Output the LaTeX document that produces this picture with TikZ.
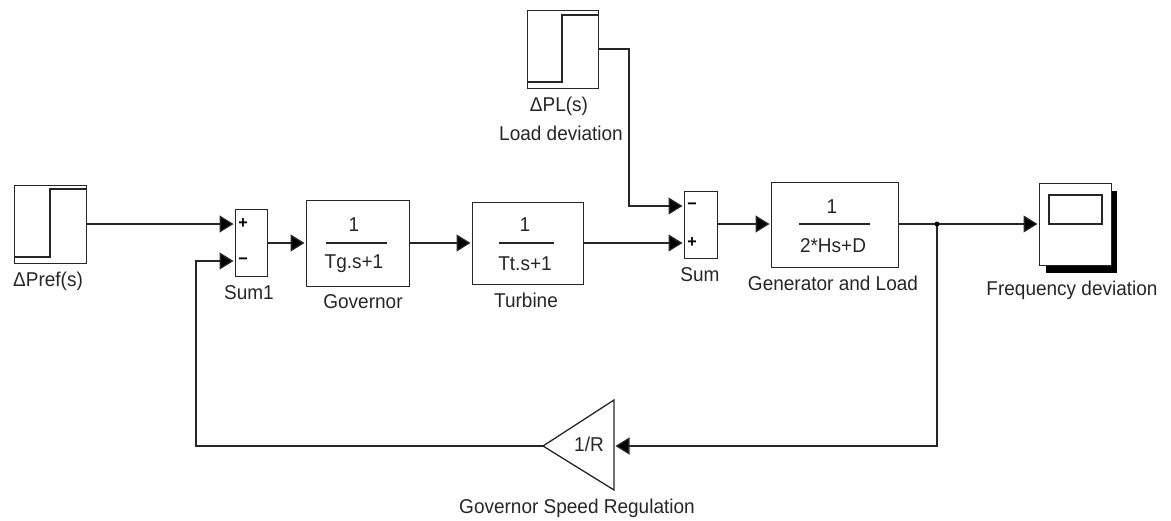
\documentclass[tikz,border=0pt]{standalone}
\usepackage{fontspec}
\setmainfont[FakeStretch=0.95]{Liberation Sans}
\usetikzlibrary{arrows.meta}
\tikzset{
  x=1pt,y=-1pt,
  wire/.style={line width=1.3pt,draw=black!85,-{Triangle[length=14pt,width=17pt,fill=black]},shorten >=1.5pt},
  plainwire/.style={line width=1.3pt,draw=black!85},
  blockbox/.style={draw=black!85,line width=1.3pt,fill=white,inner sep=0pt,anchor=north west},
  lbl/.style={font=\fontsize{20}{22}\selectfont,inner sep=0pt,text=black!85},
  sgn/.style={font=\fontsize{17}{18}\selectfont\bfseries,inner sep=0pt},
}
\begin{document}
\begin{tikzpicture}
\useasboundingbox (0,0) rectangle (1171,520);
% step 1
\node[blockbox,minimum width=72pt,minimum height=78pt] (st1) at (14,185) {};
\draw[plainwire] (14,257) -- (50,257) -- (50,189) -- (86,189);
\node[lbl] (lst1) at (48,281) {ΔPref(s)};
% step 2
\node[blockbox,minimum width=71pt,minimum height=78pt] (st2) at (527,10) {};
\draw[plainwire] (527,82) -- (562,82) -- (562,15) -- (598,15);
\node[lbl] (lst2a) at (559,106) {ΔPL(s)};
\node[lbl] (lst2b) at (561,133) {Load deviation};
% sum1
\node[blockbox,minimum width=32pt,minimum height=67pt] (s1) at (235,209) {};
\coordinate (s1a) at (235,224);
\coordinate (s1b) at (235,261);
\node[sgn] (s1p) at (243,224) {+};
\node[sgn] (s1m) at (243,261) {−};
\node[lbl] (ls1) at (249,293) {Sum1};
% governor
\node[blockbox,minimum width=103pt,minimum height=86pt] (gov) at (306,200) {};
\node[lbl] (govn) at (354,225) {1};
\draw[plainwire] (326,243) -- (387,243);
\node[lbl] (govd) at (354,264) {Tg.s+1};
\node[lbl] (lgov) at (363,302) {Governor};
% turbine
\node[blockbox,minimum width=111pt,minimum height=82pt] (tur) at (472,202) {};
\node[lbl] (turn) at (525,225) {1};
\draw[plainwire] (499,243) -- (554,243);
\node[lbl] (turd) at (525,264) {Tt.s+1};
\node[lbl] (ltur) at (526,300) {Turbine};
% sum
\node[blockbox,minimum width=33pt,minimum height=67pt] (s2) at (684,191) {};
\coordinate (s2a) at (684,206);
\coordinate (s2b) at (684,243);
\node[sgn] (s2m) at (692,206) {−};
\node[sgn] (s2p) at (692,243) {+};
\node[lbl] (ls2) at (700,275) {Sum};
% generator
\node[blockbox,minimum width=127pt,minimum height=85pt] (gen) at (771,182) {};
\node[lbl] (genn) at (832,207) {1};
\draw[plainwire] (799,224) -- (870,224);
\node[lbl] (gend) at (833,246) {2*Hs+D};
\node[lbl] (lgen) at (833,283) {Generator and Load};
% scope
\fill (1046,191) rectangle (1117,273);
\node[blockbox,minimum width=72pt,minimum height=82pt] (sc) at (1039,183) {};
\draw[plainwire] (1049,195) rectangle (1102,224);
\node[lbl] (lsc) at (1072,290) {Frequency deviation};
\coordinate (sca) at (1039,224);
% gain
\coordinate (gt) at (543,446);
\coordinate (gu) at (614,400);
\coordinate (gd) at (614,490);
\draw[plainwire,fill=white] (gt) -- (gu) -- (gd) -- cycle;
\node[lbl] (gl) at (589,444) {1/R};
\node[lbl] (lg) at (577,508) {Governor Speed Regulation};
% connectors
\coordinate (j) at (937,224);
\coordinate (c1) at (629,49);
\coordinate (c2) at (629,206);
\coordinate (c3) at (937,446);
\coordinate (c4) at (196,446);
\coordinate (c5) at (196,261);
\coordinate (st1o) at (86,224);
\coordinate (st2o) at (598,49);
\coordinate (s1o) at (267,243);
\coordinate (govi) at (306,243);
\coordinate (govo) at (409,243);
\coordinate (turi) at (472,243);
\coordinate (turo) at (583,243);
\coordinate (s2o) at (717,224);
\coordinate (geni) at (771,224);
\coordinate (geno) at (898,224);
\coordinate (gi) at (614,446);
\draw[wire] (st1o) -- (s1a);
\draw[wire] (s1o) -- (govi);
\draw[wire] (govo) -- (turi);
\draw[wire] (turo) -- (s2b);
\draw[wire] (st2o) -- (c1) -- (c2) -- (s2a);
\draw[wire] (s2o) -- (geni);
\draw[wire] (geno) -- (sca);
\draw[wire] (j) -- (c3) -- (gi);
\draw[wire] (gt) -- (c4) -- (c5) -- (s1b);
\fill (j) circle (2.5);
\end{tikzpicture}
\end{document}
